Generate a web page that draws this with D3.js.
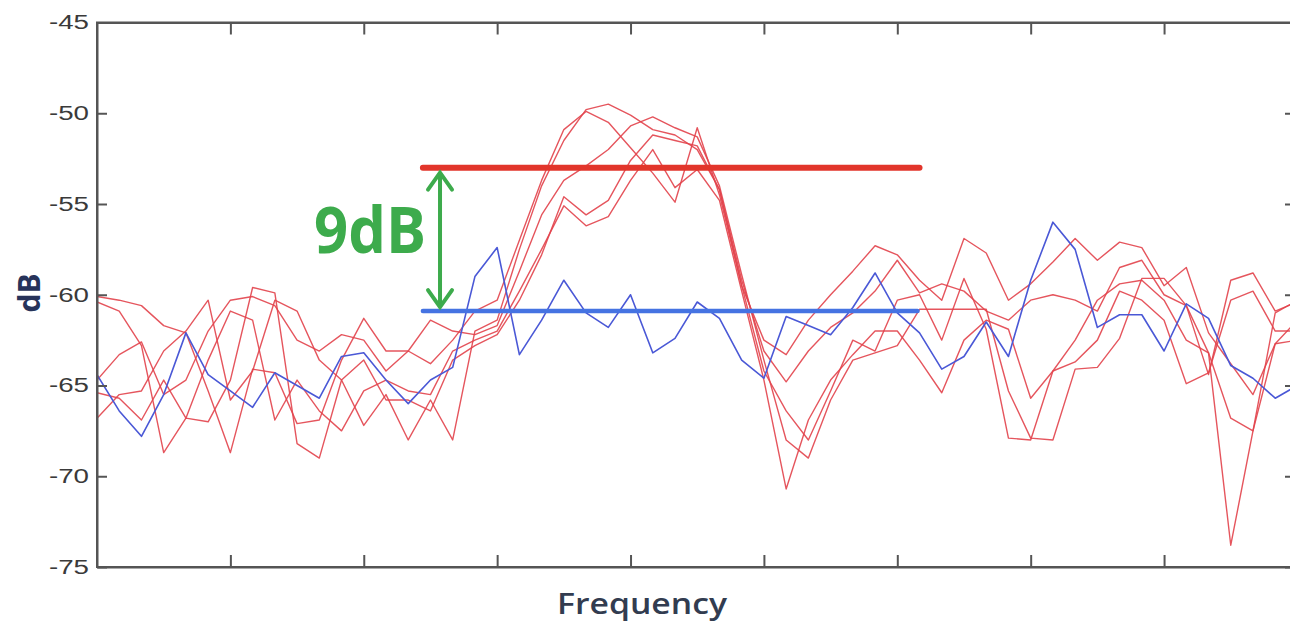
<html>
<head>
<meta charset="utf-8">
<title>Frequency / dB</title>
<script src="https://d3js.org/d3.v7.min.js"></script>
<style>
body { margin: 0; background: #fff; }
svg { display: block; }
.axis .domain, .axis .tick line { stroke: #555; stroke-width: 2; }
.axis text { font-family: "Liberation Sans", Arial, sans-serif; font-size: 20px; fill: #3a3a3a; }
</style>
</head>
<body>
<svg width="1290" height="621"></svg>
<script>
// tick values
var yTicks = [-45, -50, -55, -60, -65, -70, -75];
var xTicks = [6, 12, 18, 24, 30, 36, 42, 48];

// background (blue) trace, dB per frequency bin
var noise = [-64.4,-66.4,-67.8,-65.5,-62.1,-64.4,-65.3,-66.2,-64.3,-65.0,
  -65.7,-63.4,-63.2,-64.7,-66.0,-64.7,-64.0,-59.0,-57.4,-63.3,
  -61.4,-59.2,-61.0,-61.8,-60.0,-63.2,-62.4,-60.4,-61.3,-63.6,
  -64.6,-61.2,-61.7,-62.2,-60.7,-58.8,-61.0,-62.1,-64.1,-63.4,
  -61.5,-63.4,-59.2,-56.0,-57.5,-61.8,-61.1,-61.1,-63.1,-60.5,
  -61.3,-63.9,-64.6,-65.7,-65.0];

// signal (red) traces
var sig1 = [-60.1,-60.3,-60.6,-61.7,-62.1,-65.3,-68.7,-64.1,-64.3,-67.1,
  -66.9,-63.6,-61.3,-63.1,-63.1,-63.8,-62.5,-60.9,-60.3,-57.0,
  -53.7,-50.9,-49.9,-50.5,-51.9,-53.3,-54.9,-50.8,-54.5,-59.5,
  -62.5,-63.3,-61.4,-60.0,-58.7,-57.3,-57.8,-59.2,-60.3,-56.9,
  -57.7,-60.3,-59.4,-58.2,-56.9,-58.1,-57.1,-57.4,-59.5,-58.5,
  -62.1,-63.8,-65.5,-62.7,-61.4];
var sig2 = [-60.4,-60.9,-62.8,-68.7,-66.8,-67.0,-64.7,-59.6,-59.9,-68.2,
  -69.0,-64.7,-67.2,-65.5,-68.0,-65.8,-68.0,-62.0,-61.4,-57.5,
  -54.0,-51.5,-49.8,-49.5,-50.1,-50.9,-51.2,-52.0,-54.2,-59.2,
  -63.1,-64.8,-63.1,-61.8,-61.0,-59.8,-58.1,-59.9,-59.4,-59.8,
  -60.9,-61.4,-60.3,-60.0,-60.3,-60.9,-58.5,-58.1,-60.0,-60.6,
  -63.2,-73.8,-67.5,-61.0,-60.3];
var sig3 = [-64.7,-63.3,-62.6,-65.5,-64.7,-62.0,-60.3,-60.1,-60.6,-62.5,
  -63.1,-62.2,-62.5,-64.2,-63.1,-61.4,-62.0,-62.2,-61.7,-58.7,
  -55.6,-53.7,-52.9,-52.0,-50.7,-50.2,-50.8,-51.3,-54.0,-58.9,
  -63.6,-68.0,-69.0,-65.8,-63.6,-63.2,-62.8,-60.8,-60.8,-60.8,
  -60.8,-65.3,-67.9,-68.0,-64.1,-64.0,-62.4,-59.1,-59.1,-60.6,
  -64.4,-59.2,-58.8,-60.9,-60.4];
var sig4 = [-65.4,-65.7,-66.9,-64.7,-66.8,-63.6,-60.9,-61.4,-66.9,-64.7,
  -66.4,-67.5,-65.3,-64.7,-65.3,-65.5,-63.1,-62.5,-62.0,-59.8,
  -57.5,-55.1,-56.2,-55.7,-53.7,-52.0,-54.1,-53.1,-54.8,-59.8,
  -64.7,-70.7,-66.9,-64.7,-63.3,-62.0,-62.0,-63.6,-65.4,-62.5,
  -61.4,-61.9,-65.7,-64.2,-63.7,-62.5,-59.8,-60.3,-61.4,-64.9,
  -64.3,-60.3,-59.8,-62.0,-62.0];
var sig5 = [-66.8,-65.5,-65.3,-63.1,-62.0,-60.3,-65.8,-64.2,-60.3,-60.9,
  -63.6,-64.7,-63.6,-65.8,-65.8,-66.4,-63.6,-62.8,-62.2,-60.3,
  -57.8,-54.6,-55.6,-54.8,-52.6,-51.2,-51.5,-51.8,-54.2,-59.5,
  -64.2,-66.4,-68.0,-65.3,-62.5,-63.1,-60.3,-60.0,-62.5,-59.1,
  -61.9,-67.9,-68.0,-64.2,-62.5,-60.3,-59.4,-59.2,-60.3,-62.5,
  -63.2,-66.8,-67.5,-62.7,-62.5];

// annotation: signal level, noise level, span of the level lines, arrow position
var levels = [-53.0, -60.9];
var levelSpan = [14.66, 37.0];
var arrowAt = 15.43;
var gapLabel = "9dB";

var svg = d3.select("svg");
var plotL = 97, plotR = 1293, plotT = 22.5, plotB = 567;

var x = d3.scaleLinear().domain([0, 53.8]).range([plotL, plotR]);
var y = d3.scaleLinear().domain([-75, -45]).range([plotB, plotT]);

svg.append("defs").append("clipPath").attr("id", "plot")
  .append("rect").attr("x", plotL).attr("y", plotT)
  .attr("width", plotR - plotL).attr("height", plotB - plotT);

var line = d3.line().x(function (d, i) { return x(i); }).y(function (d) { return y(d); });

var g = svg.append("g").attr("clip-path", "url(#plot)");

[sig1, sig2, sig3, sig4, sig5].forEach(function (s) {
  g.append("path").datum(s).attr("d", line)
    .attr("fill", "none").attr("stroke", "#e2434b").attr("stroke-width", 1.4)
    .attr("stroke-linejoin", "round").attr("opacity", 0.9);
});
g.append("path").datum(noise).attr("d", line)
  .attr("fill", "none").attr("stroke", "#4a58d6").attr("stroke-width", 1.6)
  .attr("stroke-linejoin", "round");

// plot frame
svg.append("rect").attr("x", plotL).attr("y", plotT)
  .attr("width", plotR - plotL).attr("height", plotB - plotT)
  .attr("fill", "none").attr("stroke", "#555").attr("stroke-width", 2);

// axes (ticks point inward)
svg.append("g").attr("class", "axis").attr("transform", "translate(" + plotL + ",0)")
  .call(d3.axisLeft(y).tickValues(yTicks).tickSize(-10).tickSizeOuter(0).tickPadding(8)
    .tickFormat(function (d) { return String(d); }))
  .selectAll("text").attr("textLength", 40).attr("lengthAdjust", "spacingAndGlyphs");
svg.append("g").attr("class", "axis").attr("transform", "translate(" + plotR + ",0)")
  .call(d3.axisRight(y).tickValues(yTicks).tickSize(-8).tickSizeOuter(0).tickFormat(""));
svg.append("g").attr("class", "axis").attr("transform", "translate(0," + plotB + ")")
  .call(d3.axisBottom(x).tickValues(xTicks).tickSize(-12).tickSizeOuter(0).tickFormat(""));
svg.append("g").attr("class", "axis").attr("transform", "translate(0," + plotT + ")")
  .call(d3.axisTop(x).tickValues(xTicks).tickSize(-12).tickSizeOuter(0).tickFormat(""));

// level lines
svg.append("line").attr("x1", x(levelSpan[0])).attr("x2", x(levelSpan[1]))
  .attr("y1", y(levels[0])).attr("y2", y(levels[0]))
  .attr("stroke", "#e2352b").attr("stroke-width", 6).attr("stroke-linecap", "round");
svg.append("line").attr("x1", x(levelSpan[0])).attr("x2", x(levelSpan[1]) - 2)
  .attr("y1", y(levels[1])).attr("y2", y(levels[1]))
  .attr("stroke", "#4573e2").attr("stroke-width", 4.5).attr("stroke-linecap", "round");

// double arrow
var ax = x(arrowAt), a1 = y(levels[0]) + 5, a2 = y(levels[1]) - 4;
var green = "#3dab4c";
svg.append("line").attr("x1", ax).attr("x2", ax).attr("y1", a1).attr("y2", a2)
  .attr("stroke", green).attr("stroke-width", 4);
svg.append("path")
  .attr("d", "M" + (ax - 12) + "," + (a1 + 17) + "L" + ax + "," + a1 + "L" + (ax + 12) + "," + (a1 + 17))
  .attr("fill", "none").attr("stroke", green).attr("stroke-width", 4).attr("stroke-linecap", "round");
svg.append("path")
  .attr("d", "M" + (ax - 12) + "," + (a2 - 17) + "L" + ax + "," + a2 + "L" + (ax + 12) + "," + (a2 - 17))
  .attr("fill", "none").attr("stroke", green).attr("stroke-width", 4).attr("stroke-linecap", "round");
svg.append("text").attr("x", 314).attr("y", 253)
  .attr("textLength", 112).attr("lengthAdjust", "spacingAndGlyphs")
  .style("font-family", "'Open Sans', sans-serif").style("font-weight", 700)
  .style("font-size", "64px").style("fill", green).text(gapLabel);

// axis titles
svg.append("text").attr("x", 642).attr("y", 614).attr("text-anchor", "middle")
  .attr("textLength", 170).attr("lengthAdjust", "spacingAndGlyphs")
  .style("font-family", "'Open Sans', sans-serif").style("font-weight", 600)
  .style("font-size", "28px").style("fill", "#323c50").text("Frequency");
svg.append("text").attr("transform", "translate(40,293) rotate(-90)").attr("text-anchor", "middle")
  .style("font-family", "'Open Sans', sans-serif").style("font-weight", 700)
  .style("font-size", "30px").style("fill", "#27335a").text("dB");
</script>
</body>
</html>
